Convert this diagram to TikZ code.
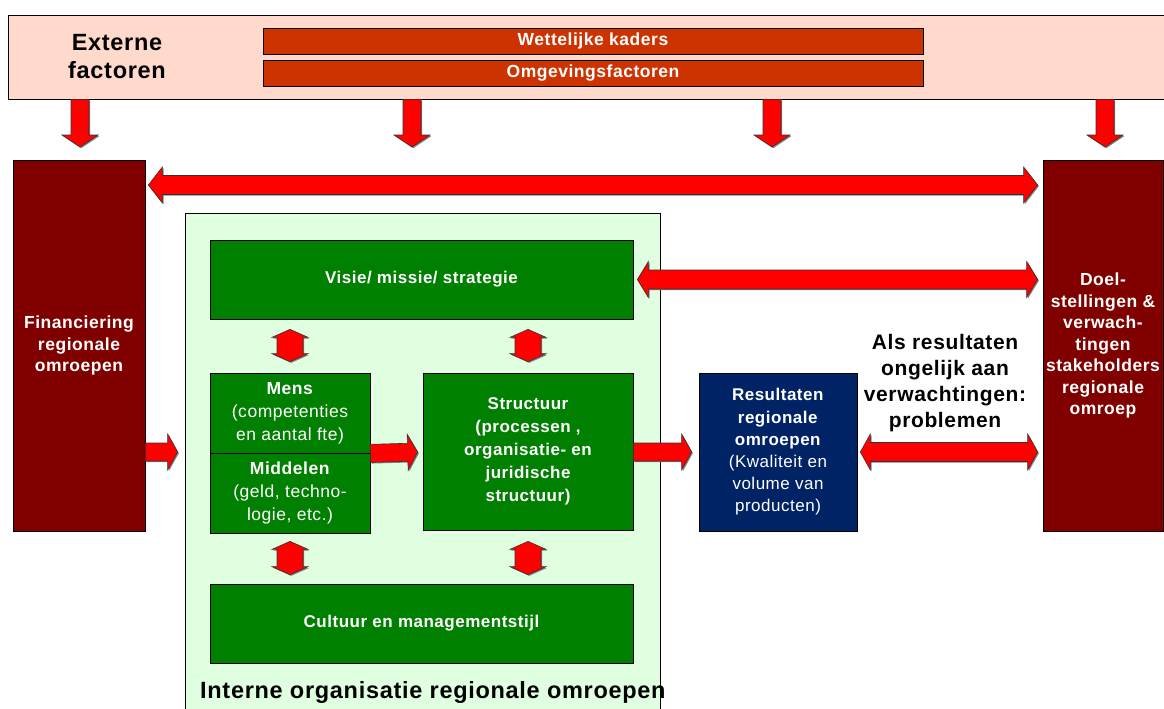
\documentclass[tikz,border=0pt]{standalone}
\usepackage{fontspec}
\setmainfont{Liberation Sans}[LetterSpace=3]
\usetikzlibrary{calc, shadows}

\definecolor{extpink}{RGB}{255,218,204}
\definecolor{barred}{RGB}{204,51,0}
\definecolor{darkred}{RGB}{128,0,0}
\definecolor{boxgreen}{RGB}{0,128,0}
\definecolor{palegreen}{RGB}{224,255,224}
\definecolor{navy}{RGB}{0,35,102}

\tikzset{%
  every node/.style={align=center, inner sep=0pt},
  box/.style={
    draw, line width=0.7pt, text=white,
    font=\fontsize{17.5}{23}\selectfont},
  greenbox/.style={box, fill=boxgreen},
  redbox/.style={box, fill=darkred,
    font=\fontsize{17.5}{21.5}\selectfont\bfseries},
  barbox/.style={box, fill=barred,
    minimum width=660pt, minimum height=26pt,
    font=\fontsize{17.5}{20}\selectfont\bfseries},
  bigtext/.style={font=\fontsize{21}{26}\selectfont\bfseries},
  labeltext/.style={font=\fontsize{23.5}{28}\selectfont\bfseries},
  blockarrow/.style={
    fill=red, draw=black!80, line width=0.6pt,
    drop shadow={shadow xshift=1.2pt, shadow yshift=-1.2pt,
      fill=black!50, opacity=1}} % red block arrows
}

% block arrows: from, to, half shaft, head length
\newcommand\onearrow[4]{%
  \path (#1) coordinate (ta) (#2) coordinate (tb);
  \path ($(tb)!#4!(ta)$) coordinate (hb);
  \draw[blockarrow] ($(ta)!#3!90:(tb)$) -- ($(hb)!#3!-90:(ta)$)
    -- ($(hb)!18pt!-90:(ta)$) -- (tb) -- ($(hb)!18pt!90:(ta)$)
    -- ($(hb)!#3!90:(ta)$) -- ($(ta)!#3!-90:(tb)$) -- cycle;}
\newcommand\twoarrow[4]{%
  \path (#1) coordinate (ta) (#2) coordinate (tb);
  \path ($(ta)!#4!(tb)$) coordinate (ha) ($(tb)!#4!(ta)$) coordinate (hb);
  \draw[blockarrow] (ta) -- ($(ha)!18pt!90:(tb)$) -- ($(ha)!#3!90:(tb)$)
    -- ($(hb)!#3!-90:(ta)$) -- ($(hb)!18pt!-90:(ta)$) -- (tb)
    -- ($(hb)!18pt!90:(ta)$) -- ($(hb)!#3!90:(ta)$)
    -- ($(ha)!#3!-90:(tb)$) -- ($(ha)!18pt!-90:(tb)$) -- cycle;}

\begin{document}
\begin{tikzpicture}[x=1pt, y=-1pt]
    \useasboundingbox (0,0) rectangle (1164,709);

    % external factors
    \node[draw, line width=0.7pt, fill=extpink,
      minimum width=1162pt, minimum height=84pt] (ext) at (589,57) {};
    \node[labeltext] (extlabel) at (117,57) {Externe\\factoren};
    \node[barbox] (wet) at (593,41) {Wettelijke kaders};
    \node[barbox] (omg) at (593,73) {Omgevingsfactoren};

    % outer boxes
    \node[redbox, minimum width=132pt, minimum height=371pt] (fin) at (79,345.5)
      {Financiering\\regionale\\omroepen};
    \node[redbox, minimum width=120pt, minimum height=371pt] (doel) at (1103,345.5)
      {Doel-\\stellingen \&\\verwach-\\tingen\\stakeholders\\regionale\\omroep};

    % internal organisation
    \node[draw, line width=0.7pt, fill=palegreen,
      minimum width=475pt, minimum height=502pt] (intern) at (422.5,464) {};
    \node[greenbox, font=\fontsize{17}{23}\selectfont\bfseries,
      minimum width=423pt, minimum height=79pt] (visie) at (421.5,279.5) {Visie/ missie/ strategie};
    \node[greenbox, minimum width=160pt, minimum height=80pt] (mens) at (290,413)
      {\textbf{Mens}\\(competenties\\en aantal fte)};
    \node[greenbox, minimum width=160pt, minimum height=80pt] (middel) at (290,493)
      {\textbf{Middelen}\\(geld, techno-\\logie, etc.)};
    \node[greenbox, font=\fontsize{17}{23}\selectfont\bfseries,
      minimum width=210pt, minimum height=157pt] (struct) at (528,451.5)
      {Structuur\\(processen ,\\organisatie- en\\juridische\\structuur)};
    \node[greenbox, font=\fontsize{17}{23}\selectfont\bfseries,
      minimum width=423pt, minimum height=79pt] (cult) at (421.5,623.5) {Cultuur en managementstijl};
    \node[labeltext, anchor=west] (internlabel) at (200,692) {Interne organisatie regionale omroepen};

    % results
    \node[box, fill=navy, font=\fontsize{17}{22.2}\selectfont,
      minimum width=158pt, minimum height=158pt] (result) at (778,452)
      {\textbf{Resultaten}\\\textbf{regionale}\\\textbf{omroepen}\\(Kwaliteit en\\volume van\\producten)};
    \node[bigtext] (issue) at (945,383) {Als resultaten\\ongelijk aan\\verwachtingen:\\problemen};

    % arrows down from the external factors
    \coordinate (d1) at (80,147);
    \coordinate (d2) at (412,147);
    \coordinate (d3) at (772,147);
    \coordinate (d4) at (1105,147);
    \foreach \d in {d1,d2,d3,d4}
      \onearrow{\d |- ext.south}{\d}{9pt}{12pt};

    % horizontal arrows
    \twoarrow{$(fin.east |- 0,185)+(3,0)$}{$(doel.west |- 0,185)+(-5,0)$}{9.5pt}{14pt}
    \twoarrow{$(visie.east)+(4,0)$}{$(doel.west |- visie)+(-5,0)$}{9.5pt}{11pt}
    \twoarrow{$(result.east)+(3,0)$}{$(doel.west |- result)+(-5,0)$}{9.5pt}{10pt}
    \onearrow{fin.east |- 0,452}{$(intern.west |- 0,452)+(-7,0)$}{9pt}{10pt}
    \onearrow{mens.south east}{$(struct.west |- 0,452)+(-5,0)$}{9pt}{10pt}
    \onearrow{struct.east |- 0,452}{$(result.west)+(-7,0)$}{9pt}{10pt}

    % small arrows inside
    \twoarrow{$(visie.south -| mens)+(0,10)$}{$(mens.north)+(0,-11)$}{13pt}{8pt}
    \twoarrow{$(visie.south -| struct)+(0,10)$}{$(struct.north)+(0,-11)$}{13pt}{8pt}
    \twoarrow{$(middel.south)+(0,8)$}{$(cult.north -| middel)+(0,-9)$}{13pt}{8pt}
    \twoarrow{$(struct.south)+(0,11)$}{$(cult.north -| struct)+(0,-9)$}{13pt}{8pt}

\end{tikzpicture}
\end{document}
